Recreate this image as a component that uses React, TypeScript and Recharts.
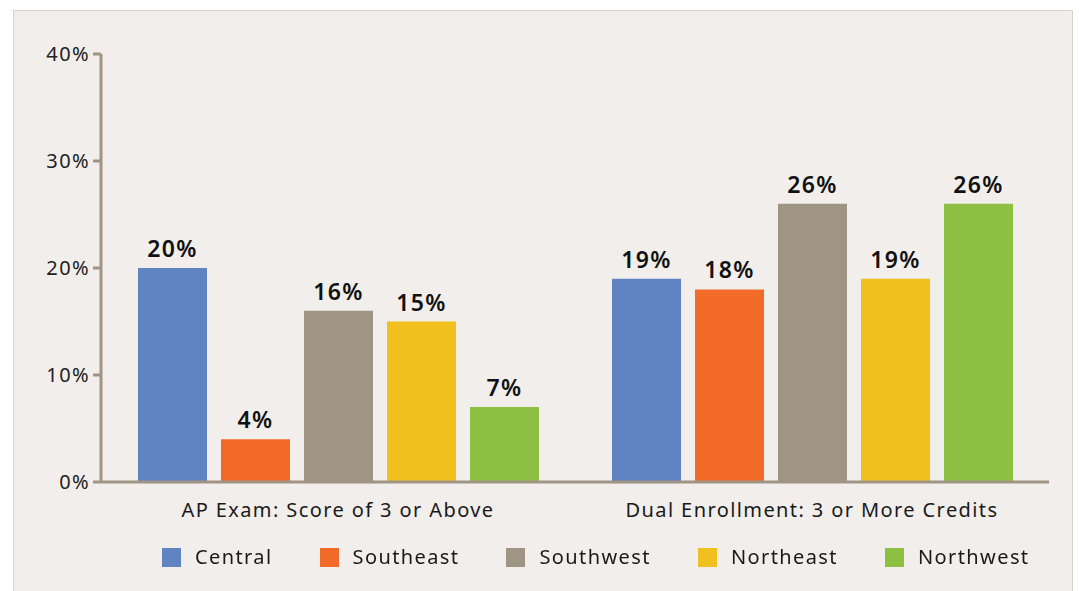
import React from 'react';
import { BarChart, Bar, XAxis, YAxis, LabelList } from 'recharts';

const categories = ['AP Exam: Score of 3 or Above', 'Dual Enrollment: 3 or More Credits'];
const central = [20, 19];
const southeast = [4, 18];
const southwest = [16, 26];
const northeast = [15, 19];
const northwest = [7, 26];
const yTicks = [0, 10, 20, 30, 40];

const seriesNames = ['Central', 'Southeast', 'Southwest', 'Northeast', 'Northwest'];
const seriesKeys = ['central', 'southeast', 'southwest', 'northeast', 'northwest'];
const seriesValues = [central, southeast, southwest, northeast, northwest];
const colors = ['#6083c1', '#f26a27', '#a09484', '#efc01e', '#8cbf42'];

const data = categories.map((c, i) => {
  const row: Record<string, string | number> = { name: c };
  seriesKeys.forEach((k, j) => {
    row[k] = seriesValues[j][i];
  });
  return row;
});

const FONT = '"Noto Sans", sans-serif';
const LS = 1.4;

export default function App() {
  return (
    <div>
      <div
        style={{
          position: 'fixed',
          left: 13,
          top: 10,
          width: 1060,
          height: 600,
          background: '#f1eeeb',
          border: '1px solid #d8d1cc',
          boxSizing: 'border-box',
        }}
      />
      <div style={{ position: 'fixed', left: 0, top: 0, width: 1079, height: 591, fontFamily: FONT, letterSpacing: LS }}>
        <BarChart
          width={1079}
          height={591}
          data={data}
          margin={{ top: 54, right: 30, bottom: 79, left: 0 }}
          barSize={69}
          barGap={14}
        >
          <YAxis
            width={101}
            domain={[0, 40]}
            ticks={yTicks}
            interval={0}
            tickFormatter={(v) => `${v}%`}
            axisLine={{ stroke: '#a09484', strokeWidth: 3 }}
            tickLine={{ stroke: '#a09484', strokeWidth: 3 }}
            tickSize={8}
            tickMargin={3}
            tick={{ fill: '#222', fontSize: 20 }}
          />
          <XAxis
            dataKey="name"
            height={30}
            axisLine={{ stroke: '#a09484', strokeWidth: 3 }}
            tickLine={false}
            tickSize={0}
            tickMargin={21}
            tick={{ fill: '#1a1a1a', fontSize: 20 }}
          />
          {seriesKeys.map((k, i) => (
            <Bar key={k} dataKey={k} name={seriesNames[i]} fill={colors[i]} isAnimationActive={false}>
              <LabelList
                dataKey={k}
                position="top"
                offset={11}
                formatter={(v: number) => `${v}%`}
                style={{ fill: '#111', fontSize: 23, fontWeight: 600 }}
              />
            </Bar>
          ))}
        </BarChart>
        <div
          style={{
            position: 'absolute',
            left: 162,
            top: 546,
            display: 'flex',
            alignItems: 'center',
            whiteSpace: 'nowrap',
          }}
        >
          {seriesNames.map((n, i) => (
            <div key={n} style={{ display: 'flex', alignItems: 'center', marginRight: 47 }}>
              <span style={{ width: 19, height: 19, background: colors[i], display: 'inline-block', marginRight: 14 }} />
              <span style={{ fontSize: 20, color: '#1a1a1a', lineHeight: '22px' }}>{n}</span>
            </div>
          ))}
        </div>
      </div>
    </div>
  );
}
